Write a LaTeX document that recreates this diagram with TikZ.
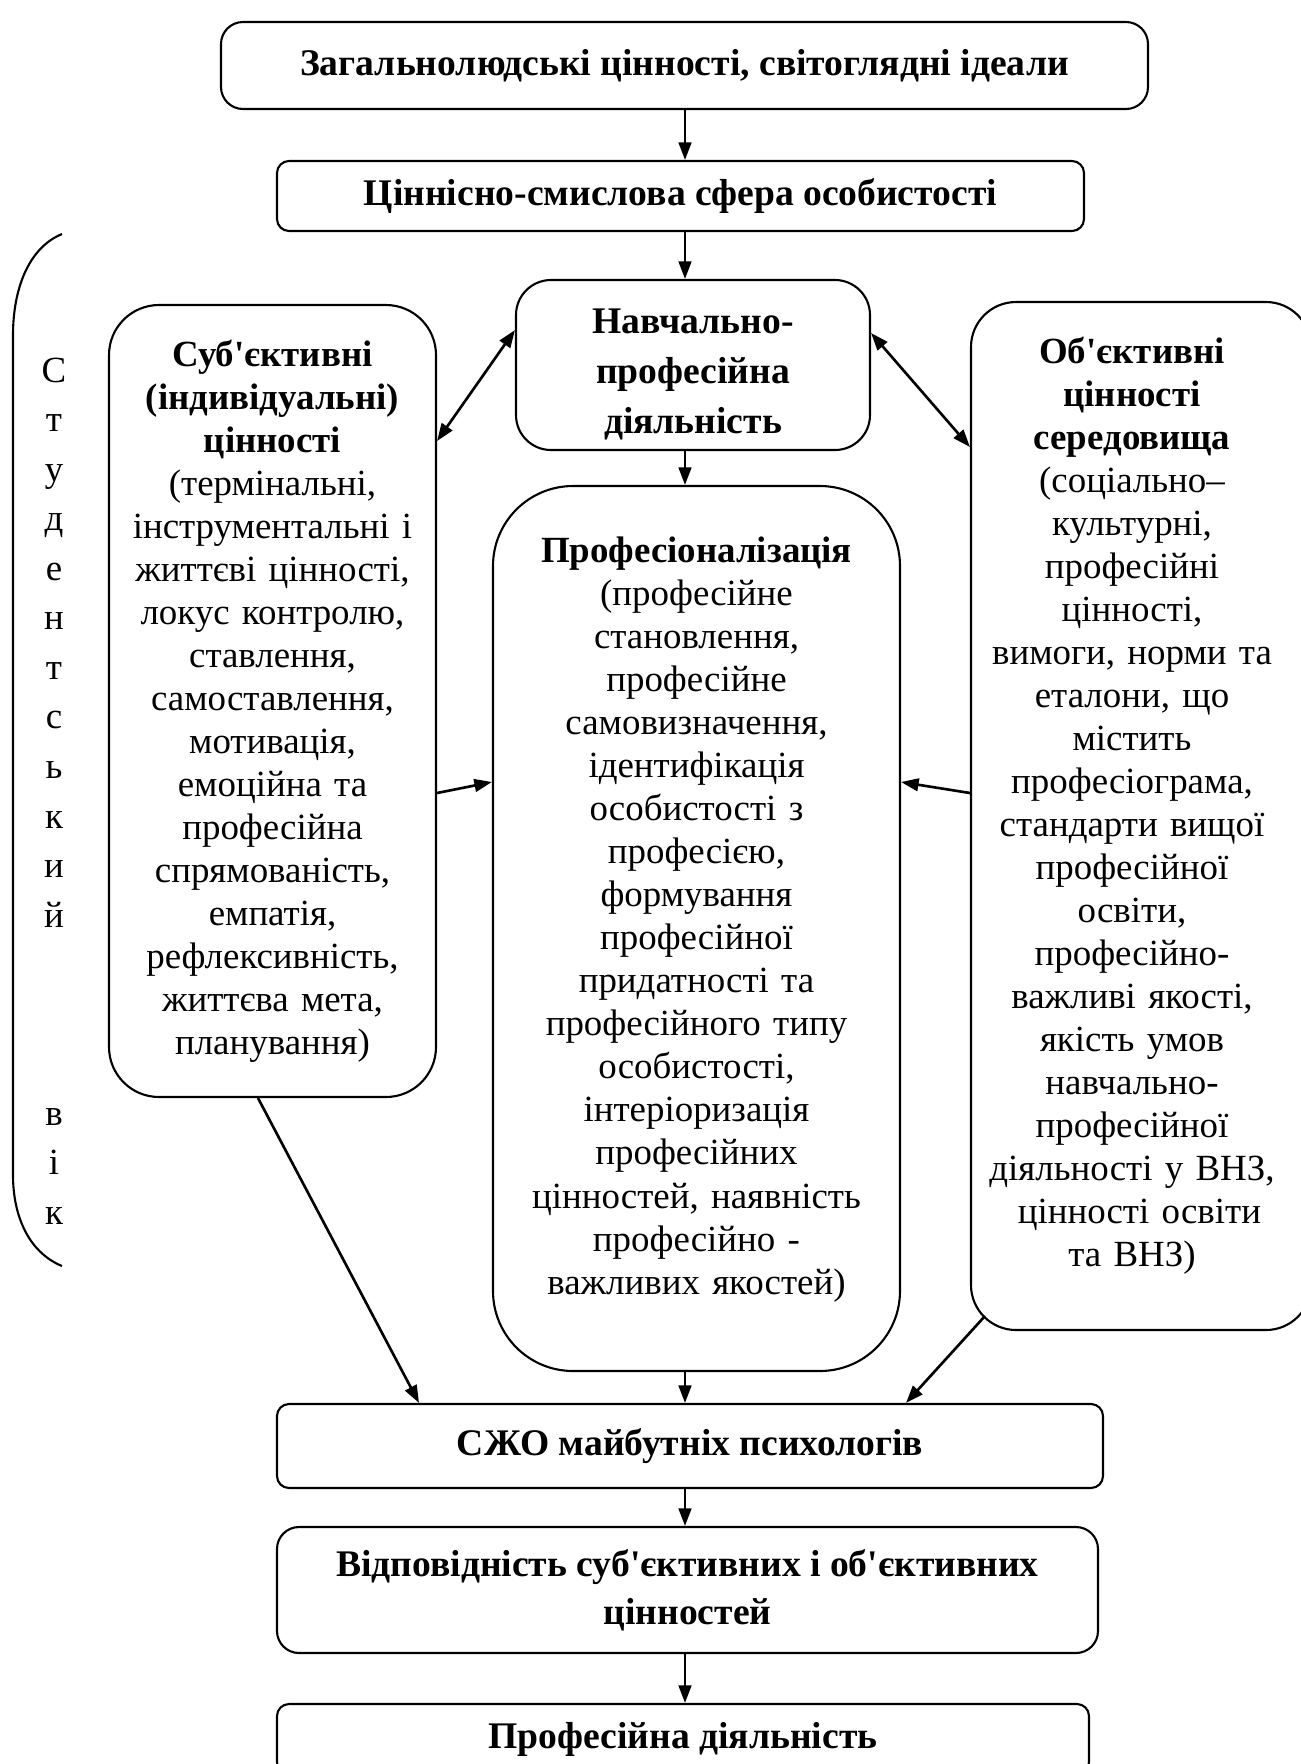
\documentclass[tikz,border=0pt]{standalone}
\usepackage{fontspec}
\setmainfont{Liberation Serif}
\usetikzlibrary{arrows.meta}

\newcommand{\apos}{\textquotesingle}

\begin{document}
\begin{tikzpicture}[
    x=0.1mm, y=-0.1mm,
    >={Triangle[length=5pt,width=3.6pt]},
    box/.style={draw, line width=0.6pt, rounded corners=2.2mm, align=center,
        inner sep=0pt, font=\bfseries\fontsize{10.7}{12.2}\selectfont},
    tall box/.style={box, font=\fontsize{10.5}{12.24}\selectfont},
    box text/.style={align=center, inner sep=0pt, font=\fontsize{10.5}{12.24}\selectfont},
    link/.style={line width=0.75pt, ->},
    both link/.style={line width=0.75pt, <->},
]
\useasboundingbox (0,0) rectangle (1301,1764);

% --- main column ---
\coordinate (axis) at (685,0);
\node[box, minimum width=92.7mm, minimum height=8.7mm] (ideals) at (684.5,65.5)
    {Загальнолюдські цінності, світоглядні ідеали};
\node[box, rounded corners=1.2mm, minimum width=80.7mm, minimum height=7mm] (sphere) at (680.5,196)
    {Ціннісно-смислова сфера особистості};
\node[box, rounded corners=3.5mm, minimum width=35.4mm, minimum height=17mm, text height=41pt,
    font=\bfseries\fontsize{10.7}{14.2}\selectfont] (study) at (693,365)
    {Навчально-\\професійна\\діяльність};

% --- side boxes ---
\node[tall box, rounded corners=5mm, minimum width=32.7mm, minimum height=79.2mm, text width=31mm]
    (subj) at (272.5,701)
    {\textbf{Суб\apos єктивні}\\ \textbf{(індивідуальні)}\\ \textbf{цінності}\\
     (термінальні,\\ інструментальні і\\ життєві цінності,\\ локус контролю,\\
     ставлення,\\ самоставлення,\\ мотивація,\\ емоційна та\\ професійна\\
     спрямованість,\\ емпатія,\\ рефлексивність,\\ життєва мета,\\ планування)};
\node[tall box, rounded corners=4.5mm, minimum width=34mm, minimum height=102.8mm] (obj) at (1141,816) {};
\node[box text, text width=32mm] (obj text) at ([xshift=-0.9mm,yshift=1mm]obj.center)
    {\textbf{Об\apos єктивні}\\ \textbf{цінності}\\ \textbf{середовища}\\
     (соціально–\\ культурні,\\ професійні\\ цінності,\\ вимоги, норми та\\
     еталони, що\\ містить\\ професіограма,\\ стандарти вищої\\ професійної\\
     освіти,\\ професійно-\\ важливі якості,\\ якість умов\\ навчально-\\
     професійної\\ діяльності у ВНЗ,\\ \hspace*{.4em}цінності освіти\\ та ВНЗ)};

% --- centre box ---
\node[tall box, rounded corners=8mm, minimum width=40.7mm, minimum height=88.5mm] (prof) at (696.5,928.5) {};
\node[box text, text width=38mm] (prof text) at ([yshift=0.9mm]prof.center)
    {\textbf{Професіоналізація}\\ (професійне\\ становлення,\\ професійне\\
     самовизначення,\\ ідентифікація\\ особистості з\\ професією,\\ формування\\
     професійної\\ придатності та\\ професійного типу\\ особистості,\\
     інтеріоризація\\ професійних\\ цінностей, наявність\\ професійно -\\
     важливих якостей)};

% --- lower column ---
\node[box, rounded corners=1.2mm, minimum width=82.6mm, minimum height=8.4mm] (sjo) at (690,1446)
    {СЖО майбутніх психологів};
\node[box, minimum width=82.1mm, minimum height=12.6mm,
    font=\bfseries\fontsize{10.7}{13.7}\selectfont] (match) at (687.5,1590)
    {Відповідність суб\apos єктивних і об\apos єктивних\\цінностей};
\node[box, rounded corners=1.2mm, minimum width=81.2mm, minimum height=7mm] (work) at (683,1739)
    {Професійна діяльність};

% --- bracket with vertical label ---
\draw[line width=0.6pt] (62,234) .. controls (28,248) and (13,290) .. (13,335)
    -- (13,1175) .. controls (13,1215) and (28,1252) .. (62,1266);
\node[align=center, inner sep=0pt, font=\fontsize{10.5}{14.1}\selectfont] (age) at (54,791)
    {С\\т\\у\\д\\е\\н\\т\\с\\ь\\к\\и\\й\\ \\ \\ \\в\\і\\к};

% --- connectors ---
\draw[link] (ideals.south -| axis) -- (sphere.north -| axis);
\draw[link] (sphere.south -| axis) -- (study.north -| axis);
\draw[link] (study.south -| axis) -- (prof.north -| axis);
\draw[both link] ([yshift=26mm]subj.east) -- ([yshift=3.5mm]study.west);
\draw[both link] ([yshift=3.2mm]study.east) -- ([yshift=36.9mm]obj.west);
\draw[link] ([yshift=-9.2mm]subj.east) -- ([yshift=14.65mm]prof.west);
\draw[link] ([yshift=2.3mm]obj.west) -- ([yshift=14.65mm]prof.east);
\draw[link] ([xshift=-1.45mm]subj.south) -- ([xshift=-27.1mm]sjo.north);
\draw[link] (prof.south -| axis) -- (sjo.north -| axis);
\draw[link] ([xshift=1.5mm,yshift=1.5mm]obj.south west) -- ([xshift=21.6mm]sjo.north);
\draw[link] (sjo.south -| axis) -- (match.north -| axis);
\draw[link] (match.south -| axis) -- (work.north -| axis);

\end{tikzpicture}
\end{document}
